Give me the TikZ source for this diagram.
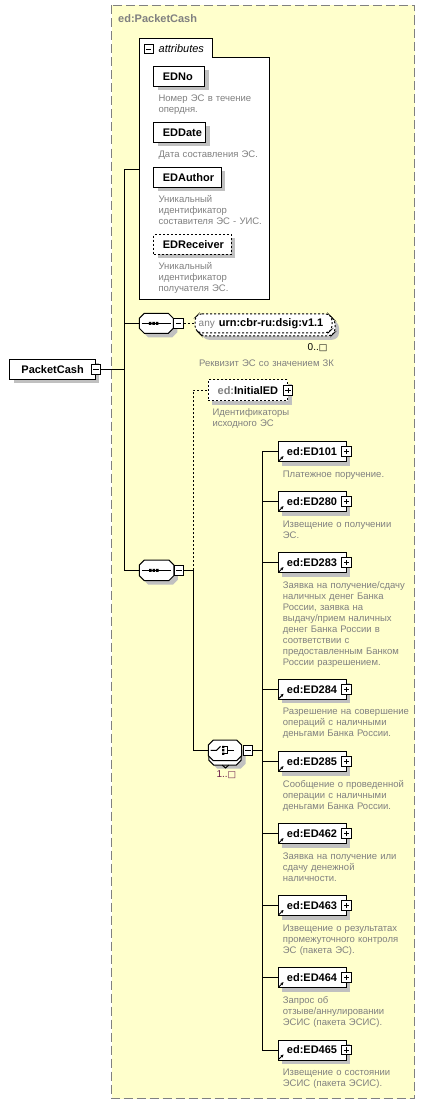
\documentclass[tikz,border=0pt]{standalone}
\usepackage{fontspec}
\setmainfont{Liberation Sans}
\newfontfamily\dejavu{DejaVu Sans}
\usetikzlibrary{arrows.meta,shadows}
\definecolor{bgyellow}{HTML}{FFFFCC}
\definecolor{bordergray}{HTML}{808080}
\definecolor{shadowgray}{HTML}{C0C0C0}
\definecolor{descgray}{HTML}{808080}
\definecolor{cardred}{HTML}{6A1B4A}
\newcommand\octpath[5]{({#1-#3+#5},{#2-#4}) -- ({#1+#3-#5},{#2-#4}) -- ({#1+#3},{#2-#4+#5}) -- ({#1+#3},{#2+#4-#5}) -- ({#1+#3-#5},{#2+#4}) -- ({#1-#3+#5},{#2+#4}) -- ({#1-#3},{#2+#4-#5}) -- ({#1-#3},{#2-#4+#5}) -- cycle}
\newcommand\edelem[3]{%
  \node[elbox,anchor=west,minimum width=68pt] (e#1) at (277.5,#2) {ed:ED#1};
  \node[plusbox] (e#1p) at (e#1.east) {};
  \draw[refarrow] ([shift={(1.5pt,1.5pt)}]e#1.south west) -- ++(4.5pt,4.5pt);
  \node[desc] (e#1d) at (282.7,{#2+25.5}) {#3};
  \draw[conn] (bus) |- (e#1.west);
}
\begin{document}
\begin{tikzpicture}[x=1pt,y=-1pt,
  shadowed/.style={drop shadow={fill=shadowgray,opacity=1,shadow xshift=4pt,shadow yshift=-4pt}},
  elbox/.style={draw=black,line width=1pt,fill=white,shadowed,minimum height=20pt,inner xsep=0pt,inner ysep=0pt,font=\fontsize{11}{13}\selectfont\bfseries},
  attrbox/.style={elbox,anchor=west,inner xsep=9pt},
  desc/.style={anchor=base west,inner sep=0pt,text width=160pt,align=left,text=descgray,font=\fontsize{9.5}{11}\selectfont},
  pmbox/.style={draw=black,line width=1pt,fill=white,minimum size=9.5pt,inner sep=0pt},
  minusbox/.style={pmbox,path picture={\draw[line width=1pt] ([xshift=2pt]path picture bounding box.west) -- ([xshift=-2pt]path picture bounding box.east);}},
  plusbox/.style={pmbox,path picture={\draw[line width=1pt] ([xshift=2pt]path picture bounding box.west) -- ([xshift=-2pt]path picture bounding box.east) ([yshift=2pt]path picture bounding box.south) -- ([yshift=-2pt]path picture bounding box.north);}},
  conn/.style={draw=black,line width=1pt},
  optconn/.style={conn,dash pattern=on 2pt off 2pt},
  optline/.style={draw=black,line width=1pt,dash pattern=on 2pt off 2pt},
  refarrow/.style={draw=black,line width=1pt,-{Stealth[length=3pt,width=3pt]}},
  anchorbox/.style={inner sep=0pt,draw=none},
  outl/.style={draw=black,line width=1pt,fill=white},
]
\useasboundingbox (0,0) rectangle (426,1105);
\fill[white] (0,0) rectangle (426,1105);
% outer type box
\draw[bordergray,line width=1pt,dash pattern=on 9pt off 4pt,fill=bgyellow] (111.5,5.5) rectangle (414.5,1098.5);
\node[anchor=west,inner sep=0pt,text=bordergray,font=\fontsize{11}{13}\selectfont\bfseries] (title) at (118,19) {ed:PacketCash};

% attributes
\draw[outl] (139.5,299.5) -- (139.5,38.5) -- (212,38.5) -- (212,57.5) -- (269.5,57.5) -- (269.5,299.5) -- cycle;
\node[minusbox,minimum size=9pt] (attrm) at (148.7,49.5) {};
\node[anchor=west,inner sep=0pt,font=\fontsize{11}{13}\selectfont\itshape] (attrt) at (158.5,48.5) {attributes};
\coordinate (attrin) at (139.5,169.5);

\node[attrbox] (edno) at (153.3,76.3) {\makebox[33pt][l]{EDNo}};
\node[desc] (ednod) at (158.3,101.8) {Номер ЭС в течение\\опердня.};
\node[attrbox] (eddate) at (153.3,132.3) {\makebox[34pt][l]{EDDate}};
\node[desc] (eddated) at (158.3,157.8) {Дата составления ЭС.};
\node[attrbox] (edauthor) at (153.3,177.3) {\makebox[49.4pt][l]{EDAuthor}};
\node[desc] (edauthord) at (158.3,202.8) {Уникальный\\идентификатор\\составителя ЭС - УИС.};
\node[attrbox,optline] (edrec) at (153.3,244.3) {\makebox[59.4pt][l]{EDReceiver}};
\node[desc] (edrecd) at (158.3,269.8) {Уникальный\\идентификатор\\получателя ЭС.};

% root element
\node[elbox,minimum width=85.3pt] (pc) at (52.6,369.3) {PacketCash};
\node[minusbox] (pcm) at (pc.east) {};
\coordinate (tTop) at (124.7,169.5);
\coordinate (tBot) at (124.7,570.3);

% sequence 1
\fill[shadowgray] \octpath{160.3}{327.3}{17}{10}{5};
\draw[outl] \octpath{156.3}{323.3}{17}{10}{5};
\node[anchorbox,minimum width=34pt,minimum height=20pt] (s1) at (156.3,323.3) {};
\draw[line width=1pt] (141.5,323.3) -- (170.5,323.3);
\fill (148.8,321.8) rectangle ++(2.6,3) (152.3,321.8) rectangle ++(2.6,3) (155.8,321.8) rectangle ++(2.6,3);
\node[minusbox] (s1m) at (178.7,323.3) {};

% any
\fill[shadowgray,rounded corners=3pt] \octpath{270.5}{330.3}{68.5}{9.5}{4};
\draw[optline,fill=white,rounded corners=3pt] \octpath{266.5}{326.3}{68.5}{9.5}{4};
\draw[optline,fill=white,rounded corners=3pt] \octpath{263.5}{323.3}{68.5}{9.5}{4};
\node[anchorbox,minimum width=137pt,minimum height=19pt] (anynode) at (263.5,323.3) {};
\node[anchor=west,inner sep=0pt] (anytext) at (198.5,323.3) {{\color{descgray}\fontsize{10}{12}\selectfont any}\hspace{4pt}{\fontsize{11}{13}\selectfont\bfseries urn:cbr-ru:dsig:v1.1}};
\node[anchor=west,inner sep=0pt,font=\fontsize{10}{12}\selectfont] (anycard) at (307.5,347.7) {0..{\dejavu\fontsize{9}{11}\selectfont □}};
\node[desc] (anyd) at (199,366.5) {Реквизит ЭС со значением ЗК};

% sequence 2
\fill[shadowgray] \octpath{160.6}{574.3}{17.3}{10.3}{5};
\draw[outl] \octpath{156.6}{570.3}{17.3}{10.3}{5};
\node[anchorbox,minimum width=34.6pt,minimum height=20.6pt] (s2) at (156.6,570.3) {};
\draw[line width=1pt] (141.8,570.3) -- (171.4,570.3);
\fill (149.1,568.8) rectangle ++(2.6,3) (152.6,568.8) rectangle ++(2.6,3) (156.1,568.8) rectangle ++(2.6,3);
\node[minusbox] (s2m) at (179.2,570.3) {};
\coordinate (b2) at (193.3,570.3);

% InitialED
\node[elbox,optline,minimum width=79.2pt,minimum height=20.7pt] (init) at (247.9,390.3) {{\color{descgray}ed:}InitialED};
\node[plusbox] (initp) at (init.east) {};
\node[desc] (initd) at (212.3,415.7) {Идентификаторы\\исходного ЭС};

% choice
\fill[shadowgray] \octpath{229}{758.3}{16.7}{10.3}{5};
\draw[outl] \octpath{225}{754.8}{16.2}{10.3}{5};
\draw[line width=1pt] (222.2,765.1) -- (225.5,768) -- (228.8,765.1);
\draw[outl] \octpath{225}{750.3}{16.7}{10.3}{5};
\node[anchorbox,minimum width=33.4pt,minimum height=20.6pt] (ch) at (225,750.3) {};
\draw[line width=1pt] (210.5,750.3) -- (216.5,750.3) -- (220.5,746.3);
\fill (222.2,745.8) rectangle ++(2.2,2.2) (222.2,749.2) rectangle ++(2.2,2.2) (222.2,752.6) rectangle ++(2.2,2.2);
\draw[line width=1pt] (224.4,746.9) -- (227.5,746.9) -- (227.5,753.7) -- (224.4,753.7) (227.5,750.3) -- (233.5,750.3);
\node[minusbox] (chm) at (247.8,750.3) {};
\node[anchor=west,inner sep=0pt,text=cardred,font=\fontsize{10}{12}\selectfont] (chcard) at (216.3,774.3) {1..{\dejavu\fontsize{9}{11}\selectfont □}};
\coordinate (bus) at (262.3,750.3);

% connectors
\draw[conn] (pcm.east) -- (pcm.east -| tTop);
\draw[conn] (attrin) -- (tTop) -- (tBot);
\draw[conn] (tTop) |- (s1.west);
\draw[conn] (tTop) |- (s2.west);
\draw[optconn] (s1m.east) -- (anynode.west);
\draw[conn] (s2m.east) -- (b2) |- (ch.west);
\draw[optconn] (b2) |- (init.west);
\draw[conn] (chm.east) -- (bus);

% choice members
\edelem{101}{451.7}{Платежное поручение.}
\edelem{280}{501.7}{Извещение о получении\\ЭС.}
\edelem{283}{562.7}{Заявка на получение/сдачу\\наличных денег Банка\\России, заявка на\\выдачу/прием наличных\\денег Банка России в\\соответствии с\\предоставленным Банком\\России разрешением.}
\edelem{284}{689.3}{Разрешение на совершение\\операций с наличными\\деньгами Банка России.}
\edelem{285}{761.7}{Сообщение о проведенной\\операции с наличными\\деньгами Банка России.}
\edelem{462}{833.7}{Заявка на получение или\\сдачу денежной\\наличности.}
\edelem{463}{905.5}{Извещение о результатах\\промежуточного контроля\\ЭС (пакета ЭС).}
\edelem{464}{977.7}{Запрос об\\отзыве/аннулировании\\ЭСИС (пакета ЭСИС).}
\edelem{465}{1050}{Извещение о состоянии\\ЭСИС (пакета ЭСИС).}
\end{tikzpicture}
\end{document}
